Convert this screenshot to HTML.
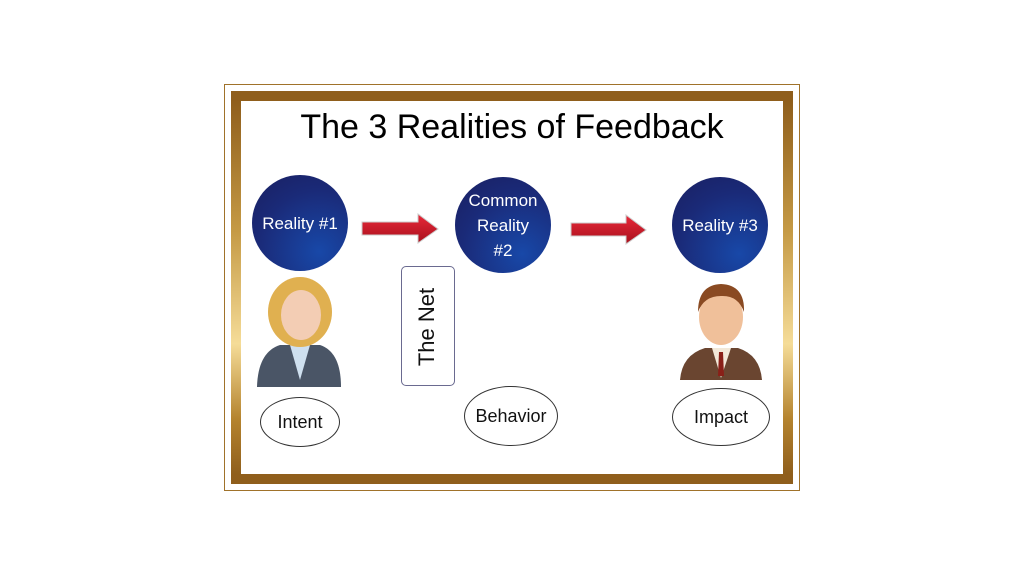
<!DOCTYPE html>
<html><head><style>
body{margin:0;width:1024px;height:576px;background:#fff;position:relative;overflow:hidden;font-family:"Liberation Sans",sans-serif}
.a{position:absolute}
.c{position:absolute;width:96px;height:96px;border-radius:50%;background:radial-gradient(circle at 70% 80%,#1848a8,#1a2a78 60%,#1a1f60);color:#fff;font-size:17px;display:flex;align-items:center;justify-content:center;text-align:center;line-height:25px}
.e{position:absolute;border:1px solid #333;border-radius:50%;display:flex;align-items:center;justify-content:center;font-size:18px;color:#111}
</style></head><body>
<div class="a" style="left:224px;top:84px;width:574px;height:405px;border:1px solid #a0722a"></div>
<div class="a" style="left:231px;top:91px;width:542px;height:373px;border:10px solid;border-image:linear-gradient(180deg,#8f5e1c,#c59a45 35%,#f5dc98 65%,#b5842f 85%,#8f5e1c) 1"></div>
<div class="a" style="left:241px;top:108px;width:542px;text-align:center;font-size:34px;color:#000">The 3 Realities of Feedback</div>
<div class="c" style="left:252px;top:175px">Reality #1</div>
<div class="c" style="left:455px;top:177px">Common<br>Reality<br>#2</div>
<div class="c" style="left:672px;top:177px">Reality #3</div>
<svg class="a" style="left:0;top:0" width="1024" height="576">
<defs><linearGradient id="g" x1="0" y1="0" x2="0" y2="1"><stop offset="0" stop-color="#e8293a"/><stop offset="1" stop-color="#a8101c"/></linearGradient></defs>
<polygon points="362,222 418,222 418,214 438,229 418,243 418,235 362,235" fill="url(#g)" stroke="#ccc" stroke-width="1"/>
<polygon points="571,223 626,223 626,215 646,230 626,244 626,236 571,236" fill="url(#g)" stroke="#ccc" stroke-width="1"/>
<!-- woman -->
<path d="M257,387 Q258,352 280,345 L320,345 Q341,352 341,387 Z" fill="#4a5566"/>
<path d="M290,345 L300,380 L310,345 Z" fill="#cfe0ef"/>
<ellipse cx="300" cy="312" rx="32" ry="35" fill="#e0b050"/>
<ellipse cx="301" cy="315" rx="20" ry="25" fill="#f3cdb4"/>
<!-- man -->
<path d="M680,380 Q682,355 705,348 L738,348 Q760,355 762,380 Z" fill="#6a4530"/>
<path d="M712,348 L721,378 L731,348 Z" fill="#f2e8d8"/>
<path d="M719,352 L723,352 L724,376 L718,376 Z" fill="#8a2018"/>
<ellipse cx="721" cy="317" rx="22" ry="28" fill="#f0c09a"/>
<path d="M698,312 Q698,285 721,284 Q745,285 744,312 Q738,295 721,296 Q704,296 698,312 Z" fill="#8a4a22"/>
</svg>
<div class="a" style="left:401px;top:266px;width:52px;height:118px;border:1px solid #6a6a90;border-radius:5px"></div>
<div class="a" style="left:367px;top:314px;width:120px;text-align:center;font-size:22px;transform:rotate(-90deg);color:#111">The Net</div>
<div class="e" style="left:260px;top:397px;width:78px;height:48px">Intent</div>
<div class="e" style="left:464px;top:386px;width:92px;height:58px">Behavior</div>
<div class="e" style="left:672px;top:388px;width:96px;height:56px">Impact</div>
</body></html>
